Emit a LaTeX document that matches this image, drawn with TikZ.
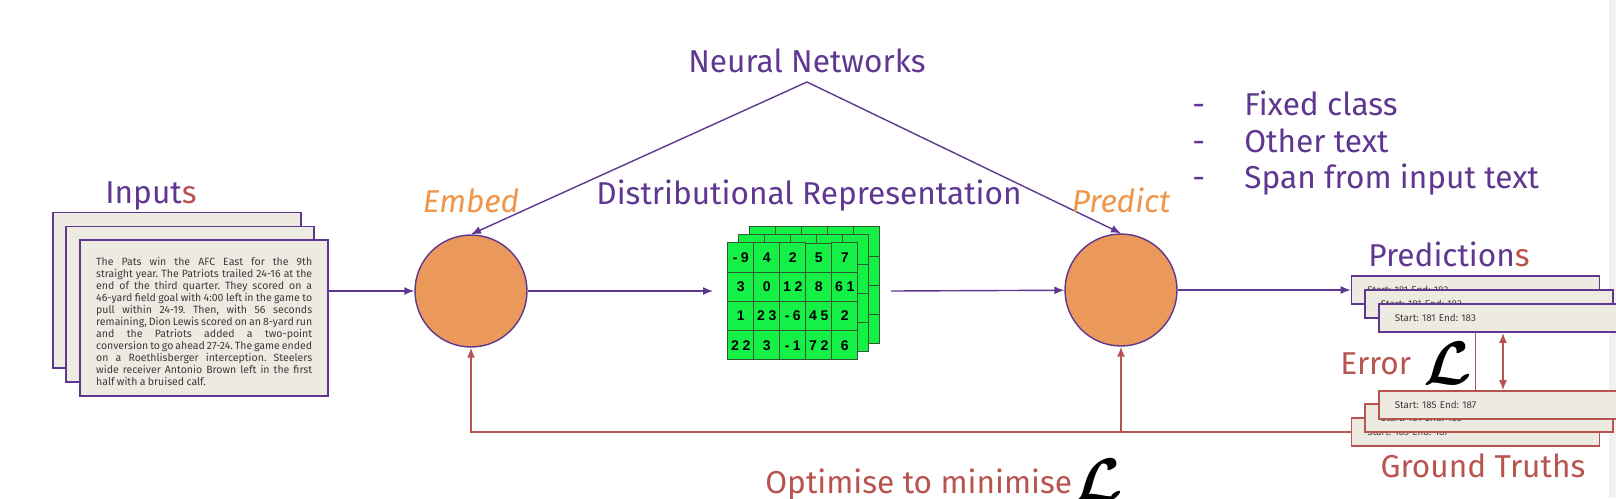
\documentclass[tikz,border=0pt]{standalone}
\usepackage{fontspec}
\setmainfont{Fira Sans}
\newfontfamily\numfont[LetterSpace=25]{Liberation Sans}
\usetikzlibrary{arrows.meta,matrix,positioning}
\frenchspacing

\definecolor{nnpurple}{RGB}{95,55,145}
\definecolor{lossred}{RGB}{184,84,80}
\definecolor{unitorange}{RGB}{234,153,90}
\definecolor{actorange}{RGB}{240,150,75}
\definecolor{paper}{RGB}{237,234,226}
\definecolor{inktext}{RGB}{60,60,60}
\definecolor{cellgreen}{RGB}{20,240,70}
\definecolor{celledge}{RGB}{50,90,50}

\newcommand{\docline}[1]{\makebox[4.32cm][s]{#1}\\}
\newcommand{\lossmark}{\scalebox{3.5}{\fontsize{10}{12}\selectfont\boldmath$\mathcal{L}$}}

\tikzset{
  lbl/.style={font=\fontsize{18}{21}\selectfont, anchor=base, inner sep=0pt},
  act/.style={lbl, font=\fontsize{18}{21}\selectfont\itshape, text=actorange},
  losssym/.style={anchor=base, inner sep=0pt, text=black},
  doc/.style={draw=nnpurple, fill=paper, line width=1pt, minimum height=3.11cm,
    text width=4.32cm, inner xsep=0.32cm, inner ysep=0pt, align=left},
  slip/.style={fill=paper, line width=1pt, minimum height=0.56cm, text width=4.33cm,
    inner xsep=0.314cm, inner ysep=0pt, align=left, text=inktext,
    font=\fontsize{5.6}{6.7}\selectfont},
  pred/.style={slip, draw=nnpurple},
  truth/.style={slip, draw=lossred},
  unit/.style={circle, draw=nnpurple, fill=unitorange, line width=0.8pt,
    minimum size=2.24cm, inner sep=0pt},
  cell/.style={draw=celledge, fill=cellgreen, line width=0.5pt, minimum width=0.52cm,
    minimum height=0.583cm, inner sep=0pt, font=\numfont\bfseries\fontsize{8}{9}\selectfont},
  layer/.style={matrix of nodes, nodes in empty cells, nodes={cell},
    column sep=-0.5pt, row sep=-0.5pt, inner sep=0pt, anchor=north west},
  flow/.style={draw=nnpurple, line width=0.8pt, -{Latex[length=2mm,width=1.6mm]}},
  loss/.style={draw=lossred, line width=0.8pt, -{Latex[length=2mm,width=1.6mm]}},
  lossline/.style={draw=lossred, line width=0.8pt},
  lossboth/.style={draw=lossred, line width=0.8pt, {Latex[length=2mm,width=1.6mm]}-{Latex[length=2mm,width=1.6mm]}}
}

\begin{document}
\begin{tikzpicture}[x=0.02cm, y=-0.02cm]

% 1. Canvas
\useasboundingbox (0,0) rectangle (1616,498);
\fill[gray!12] (1609,0) rectangle (1616,498);

% 2. Coordinates
\coordinate (apex) at (807,82);
\coordinate (gridin) at (713,291);
\coordinate (gridout) at (891,291);

% 3. Input documents
\node[doc] (inC) at (176.7,290.3) {};
\node[doc] (inB) at (190.2,304.2) {};
\node[doc, text=inktext, font=\fontsize{6}{6.86}\selectfont] (inA) at (204.2,317.9) {%
\spaceskip=0.22em plus 2em minus 0.05em
\docline{\rule{0pt}{0.31cm}The Pats win the AFC East for the 9th}
\docline{straight  year. The Patriots trailed 24-16 at the}
\docline{end of the third quarter.  They scored on a}
\docline{46-yard field goal with 4:00 left in the game to}
\docline{pull within 24-19. Then, with 56 seconds}
\docline{remaining, Dion Lewis scored on an 8-yard run}
\docline{and the Patriots added a two-point}
\docline{conversion to go ahead 27-24. The game ended}
\docline{on a Roethlisberger interception. Steelers}
\docline{wide receiver Antonio Brown left in the first}
half with a bruised calf.};

% 4. Embed and predict units
\node[unit] (embed) at (471,291) {};
\node[unit] (predict) at (1121,290) {};

% 5. Distributional representation (three stacked layers)
\matrix[layer] (gridC) at (749,226) {&&&&\\&&&&\\&&&&\\&&&&\\};
\matrix[layer] (gridB) at (738,234) {&&&&\\&&&&\\&&&&\\&&&&\\};
\matrix[layer] (grid) at (727,242) {
-9 & 4 & 2 & 5 & 7\\
3 & 0 & 12 & 8 & 61\\
1 & 23 & -6 & 45 & 2\\
22 & 3 & -1 & 72 & 6\\
};

% 6. Prediction and ground truth slips
\node[pred] (pred1) at (1475.5,290) {Start: 181 End: 183};
\node[pred] (pred2) at (1489,304) {Start: 181 End: 183};
\node[pred] (pred3) at (1503,318) {Start: 181 End: 183};
\node[truth] (gtC) at (1475.5,432) {Start: 185 End: 187};
\node[truth] (gtB) at (1489,418) {Start: 181 End: 183};
\node[truth] (gtA) at (1503,405) {Start: 185 End: 187};

% 7. Forward connectors
\draw[flow] (inA.east |- embed) -- (embed);
\draw[flow] (embed) -- (gridin);
\draw[flow] (gridout) -- (predict);
\draw[flow] (predict) -- (pred1);
\draw[flow] (apex) -- (embed.north);
\draw[flow] (apex) -- (predict.north);

% 8. Error and feedback connectors
\draw[loss] (gtC.west) -| (embed.south);
\draw[loss] (gtC.west -| predict) -- (predict.south);
\draw[lossline] ([xshift=-0.55cm]pred3.south) -- ([xshift=-0.55cm]gtA.north);
\draw[lossboth] (pred3.south) -- (gtA.north);

% 9. Labels
\node[lbl, text=nnpurple] (nnlabel) at (807,72) {Neural Networks};
\node[lbl, text=nnpurple] (distlabel) at (809,204) {Distributional Representation};
\node[act] (embedlabel) at (471,212) {Embed};
\node[act] (predictlabel) at (1121,212) {Predict};
\node[lbl, text=nnpurple] (inputslabel) at (151,203) {Input\textcolor{lossred}{s}};
\node[lbl, text=nnpurple] (predlabel) at (1449,266) {Prediction\textcolor{lossred}{s}};
\node[lbl, text=lossred] (truthlabel) at (1483,477) {Ground Truths};
\node[lbl, text=lossred, anchor=base west] (errlabel) at (1340,374) {Error};
\node[losssym] (errloss) at (1448,384) {\lossmark};
\node[lbl, text=lossred, anchor=base west] (optlabel) at (765,493) {Optimise to minimise};
\node[losssym, anchor=base west] (optloss) at (1074,501) {\lossmark};

% 10. Output kinds
\node[lbl, text=nnpurple, anchor=base west] (kind1) at (1192,115) {\makebox[1.04cm][l]{-}Fixed class};
\node[lbl, text=nnpurple, anchor=base west] (kind2) at (1192,152) {\makebox[1.04cm][l]{-}Other text};
\node[lbl, text=nnpurple, anchor=base west] (kind3) at (1192,188) {\makebox[1.04cm][l]{-}Span from input text};

\end{tikzpicture}
\end{document}
